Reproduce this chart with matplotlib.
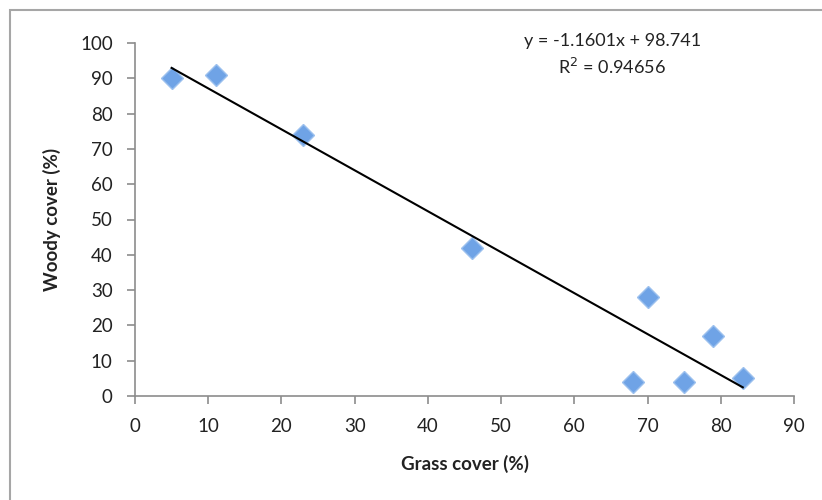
import numpy as np
import matplotlib.pyplot as plt
from matplotlib.patches import Rectangle

plt.rcParams['font.family'] = ['Lato', 'DejaVu Sans']

# data
grass = [5, 11, 23, 46, 68, 70, 75, 79, 83]
woody = [90, 91, 74, 42, 4, 28, 4, 17, 5]
slope = -1.1601
intercept = 98.741
r2 = 0.94656

fig = plt.figure(figsize=(8.22, 5), dpi=100)
# chart area frame (only top and left edges fall inside the picture)
fig.patches.append(Rectangle((0.012, -0.1), 1.2, 1.08, transform=fig.transFigure,
                             fill=False, edgecolor='#a6a6a6', linewidth=1.5))
ax = fig.add_axes([0.1642, 0.208, 0.8018, 0.706])

ax.plot(grass, woody, linestyle='none', marker='D', markersize=11,
        markerfacecolor='#6fa3e6', markeredgecolor='#9cc0ee', markeredgewidth=1.0, zorder=2)

# trendline
xs = np.array([min(grass), max(grass)])
ax.plot(xs, slope * xs + intercept, color='black', linewidth=1.5, zorder=3)

ax.set_xlim(0, 90)
ax.set_ylim(0, 100)
ax.set_xticks(np.arange(0, 91, 10))
ax.set_yticks(np.arange(0, 101, 10))
for s in ['top', 'right']:
    ax.spines[s].set_visible(False)
for s in ['left', 'bottom']:
    ax.spines[s].set_color('#8c8c8c')
    ax.spines[s].set_linewidth(1.2)
ax.tick_params(colors='#8c8c8c', labelcolor='#222222', labelsize=13.5, length=6, width=1.2)
ax.tick_params(axis='y', pad=10)
ax.tick_params(axis='x', pad=10)

ax.set_xlabel('Grass cover (%)', fontsize=13.5, fontweight='bold', color='#222222', labelpad=14)
ax.set_ylabel('Woody cover (%)', fontsize=13.5, fontweight='bold', color='#222222', labelpad=14)

fig.text(0.745, 0.918, 'y = -1.1601x + 98.741', ha='center', va='center', fontsize=13, color='#222222')
fig.text(0.745, 0.866, 'R$^2$ = 0.94656', ha='center', va='center', fontsize=13, color='#222222')

fig.savefig('out.png', dpi=100)
